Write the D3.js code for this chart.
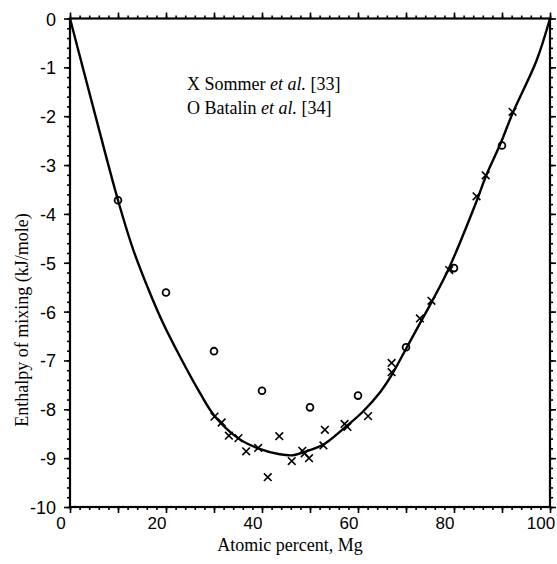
<!DOCTYPE html>
<html>
<head>
<meta charset="utf-8">
<script src="https://cdn.jsdelivr.net/npm/d3@7"></script>
<style>
  body { margin: 0; background: #fff; }
</style>
</head>
<body>
<div id="grafico"></div>
<script>
// valores
var ticks_x = [0, 20, 40, 60, 80, 100],
    ticks_y = [0, -1, -2, -3, -4, -5, -6, -7, -8, -9, -10];

var sommer_x = [30.1, 31.6, 33.1, 35.1, 36.7, 39.2, 41.2, 43.6, 46.2, 48.4, 48.9, 49.8, 52.8, 53.1, 57.2, 57.8, 62.1, 67.0, 67.0, 72.9, 75.3, 79.0, 84.7, 86.6, 92.2],
    sommer_y = [-8.15, -8.27, -8.54, -8.59, -8.86, -8.79, -9.39, -8.55, -9.06, -8.85, -8.90, -9.00, -8.74, -8.42, -8.30, -8.36, -8.14, -7.05, -7.24, -6.14, -5.78, -5.15, -3.64, -3.21, -1.91];

var batalin_x = [10, 20, 30, 40, 50, 60, 70, 80, 90],
    batalin_y = [-3.72, -5.61, -6.81, -7.62, -7.96, -7.72, -6.73, -5.11, -2.60];

var curva_x = [0, 5, 10, 13.2, 16.7, 19.4, 22.9, 27.1, 30, 35, 39.2, 43.7, 46.5, 48.6, 52.8, 57.4, 61, 64.6, 67, 69.9, 72.9, 75.3, 79, 84.7, 86.6, 89.6, 92.3, 97.2, 100],
    curva_y = [0, -1.88, -3.72, -4.74, -5.63, -6.24, -6.92, -7.67, -8.12, -8.59, -8.80, -8.92, -8.94, -8.88, -8.72, -8.36, -8.05, -7.65, -7.30, -6.78, -6.24, -5.81, -5.10, -3.74, -3.24, -2.58, -1.92, -0.86, 0];

var Main = (function() {

    var largura = 557,
        altura = 564,
        x0 = 70, x1 = 550,
        y0 = 18.5, y1 = 507,
        fonte_num = "'Liberation Sans', Arial, sans-serif",
        fonte_txt = "'Liberation Serif', 'Times New Roman', serif",
        svg = null, x = null, y = null;

    function inicializa() {
        svg = d3.select("#grafico").append("svg")
            .attr("width", largura)
            .attr("height", altura);

        x = d3.scaleLinear().domain([0, 100]).range([x0, x1]);
        y = d3.scaleLinear().domain([0, -10]).range([y0, y1]);

        _desenha_eixos();
        _desenha_curva();
        _desenha_pontos();
        _desenha_textos();
    }

    function _eixo(eixo, valores, tamanho, transf) {
        var g = svg.append("g")
            .attr("transform", transf)
            .call(eixo.tickValues(valores).tickSize(tamanho).tickFormat(""));
        g.select(".domain").remove();
        g.selectAll("line").attr("stroke", "#000").attr("stroke-width", 1.6);
        return g;
    }

    function _desenha_eixos() {
        var menores_x = d3.range(0, 101, 2),
            menores_y = d3.range(0, 51, 1).map(function(d) { return -d / 5; });

        // ticks menores e maiores nos quatro lados
        _eixo(d3.axisTop(x), menores_x, 3, "translate(0," + y0 + ")");
        _eixo(d3.axisTop(x), d3.range(0, 101, 10), 6, "translate(0," + y0 + ")");
        _eixo(d3.axisBottom(x), menores_x, 3, "translate(0," + y1 + ")");
        _eixo(d3.axisBottom(x), d3.range(0, 101, 10), 6, "translate(0," + y1 + ")");
        _eixo(d3.axisLeft(y), menores_y, 3, "translate(" + x0 + ",0)");
        _eixo(d3.axisLeft(y), ticks_y, 6, "translate(" + x0 + ",0)");
        _eixo(d3.axisRight(y), menores_y, 3, "translate(" + x1 + ",0)");
        _eixo(d3.axisRight(y), ticks_y, 6, "translate(" + x1 + ",0)");

        svg.append("rect")
            .attr("x", x0).attr("y", y0)
            .attr("width", x1 - x0).attr("height", y1 - y0)
            .attr("fill", "none")
            .attr("stroke", "#000")
            .attr("stroke-width", 2.2);

        svg.append("g").selectAll("text")
            .data(ticks_y)
            .enter().append("text")
            .attr("x", x0 - 14)
            .attr("y", function(d) { return y(d) + 7; })
            .attr("text-anchor", "end")
            .style("font-family", fonte_num)
            .style("font-size", "18px")
            .text(function(d) { return d === 0 ? "0" : "-" + Math.abs(d); });

        svg.append("g").selectAll("text")
            .data(ticks_x)
            .enter().append("text")
            .attr("x", function(d) { return x(d) - 9; })
            .attr("y", y1 + 22)
            .attr("text-anchor", "middle")
            .style("font-family", fonte_num)
            .style("font-size", "17px")
            .text(function(d) { return d; });
    }

    function _desenha_curva() {
        var pontos = curva_x.map(function(d, i) { return [d, curva_y[i]]; });
        var linha = d3.line()
            .x(function(d) { return x(d[0]); })
            .y(function(d) { return y(d[1]); })
            .curve(d3.curveCatmullRom.alpha(0.5));

        svg.append("path")
            .datum(pontos)
            .attr("d", linha)
            .attr("fill", "none")
            .attr("stroke", "#000")
            .attr("stroke-width", 2.4);
    }

    function _desenha_pontos() {
        var cruz = d3.symbol().type(d3.symbolX).size(40);
        svg.append("g").selectAll("path")
            .data(sommer_x)
            .enter().append("path")
            .attr("d", cruz)
            .attr("transform", function(d, i) {
                return "translate(" + x(d) + "," + y(sommer_y[i]) + ")";
            })
            .attr("fill", "none")
            .attr("stroke", "#000")
            .attr("stroke-width", 1.6);

        svg.append("g").selectAll("circle")
            .data(batalin_x)
            .enter().append("circle")
            .attr("cx", function(d) { return x(d); })
            .attr("cy", function(d, i) { return y(batalin_y[i]); })
            .attr("r", 3.4)
            .attr("fill", "none")
            .attr("stroke", "#000")
            .attr("stroke-width", 1.8);
    }

    function _desenha_textos() {
        var legenda = [["X Sommer ", "[33]"], ["O Batalin ", "[34]"]];
        legenda.forEach(function(l, i) {
            var t = svg.append("text")
                .attr("x", 187)
                .attr("y", 90 + i * 24)
                .style("font-family", fonte_txt)
                .style("font-size", "18px");
            t.append("tspan").text(l[0]);
            t.append("tspan").style("font-style", "italic").text("et al.");
            t.append("tspan").text(" " + l[1]);
        });

        svg.append("text")
            .attr("x", 290)
            .attr("y", 551)
            .attr("text-anchor", "middle")
            .style("font-family", fonte_txt)
            .style("font-size", "18px")
            .text("Atomic percent, Mg");

        svg.append("text")
            .attr("transform", "translate(28,320) rotate(-90)")
            .attr("text-anchor", "middle")
            .style("font-family", fonte_txt)
            .style("font-size", "18px")
            .text("Enthalpy of mixing (kJ/mole)");
    }

    return {
        inicializa: inicializa
    };

})();

Main.inicializa();
</script>
</body>
</html>
